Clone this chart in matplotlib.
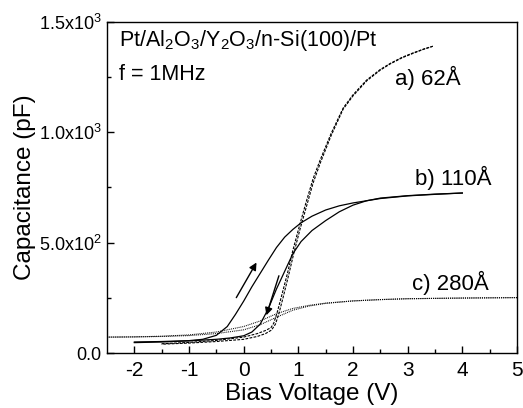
import matplotlib
matplotlib.use("Agg")
import matplotlib.pyplot as plt
from matplotlib.ticker import FixedLocator, FixedFormatter

plt.rcParams['font.family'] = ['Liberation Sans', 'DejaVu Sans']
plt.rcParams['mathtext.fontset'] = 'custom'
plt.rcParams['mathtext.rm'] = 'Liberation Sans'
plt.rcParams['axes.unicode_minus'] = False

# a) 62 A (dashed), two sweep branches
a_up_v = [-1.5, -1, -0.5, 0, 0.25, 0.4, 0.5, 0.55, 0.62, 0.7, 0.8, 0.9, 1.03, 1.15, 1.27, 1.4, 1.6,
          1.82, 2.0, 2.25, 2.5, 2.68, 2.9, 3.1, 3.3, 3.46]
a_up_c = [42, 48, 57, 72, 88, 102, 115, 135, 190, 265, 360, 465, 585, 690, 790, 875, 995,
          1110, 1170, 1237, 1285, 1312, 1340, 1360, 1378, 1390]
a_dn_v = [3.46, 3.3, 3.1, 2.9, 2.68, 2.5, 2.25, 2.0, 1.82, 1.6, 1.4, 1.27, 1.15, 1.03, 0.92, 0.82,
          0.72, 0.64, 0.58, 0.51, 0.4, 0.25, 0, -0.5, -1, -1.5]
a_dn_c = [1390, 1377, 1358, 1338, 1310, 1282, 1233, 1165, 1105, 985, 860, 770, 665, 560, 455, 350,
          250, 175, 130, 104, 88, 75, 62, 52, 45, 40]

# b) 110 A (solid)
b_up_v = [-2, -1.5, -1, -0.75, -0.5, -0.3, -0.15, 0, 0.15, 0.3, 0.45, 0.6, 0.75, 0.9, 1.05, 1.25,
          1.5, 1.75, 2.0, 2.25, 2.5, 3, 3.5, 4]
b_up_c = [50, 52, 56, 62, 80, 120, 175, 235, 300, 360, 420, 478, 525, 560, 590, 620,
          648, 667, 680, 690, 700, 712, 719, 725]
b_dn_v = [4, 3.5, 3, 2.5, 2.25, 2.0, 1.75, 1.5, 1.25, 1.05, 0.9, 0.75, 0.6, 0.45, 0.3, 0.15,
          0, -0.25, -0.5, -1, -1.5, -2]
b_dn_c = [725, 720, 713, 702, 690, 670, 640, 600, 555, 505, 450, 370, 290, 200, 130, 95,
          78, 68, 62, 55, 50, 47]

# c) 280 A (dotted)
c_up_v = [-2.5, -2, -1.5, -1, -0.5, 0, 0.3, 0.6, 0.9, 1.2, 1.5, 2, 2.5, 3, 4, 5]
c_up_c = [72, 73, 76, 82, 95, 120, 145, 178, 202, 216, 226, 236, 242, 246, 249, 251]
c_dn_v = [5, 4, 3, 2.5, 2, 1.5, 1.2, 0.9, 0.6, 0.3, 0, -0.5, -1, -1.5, -2, -2.5]
c_dn_c = [251, 249, 246, 242, 236, 225, 213, 194, 162, 128, 105, 88, 79, 75, 73, 72]

x_ticks = [-2, -1, 0, 1, 2, 3, 4, 5]
y_ticks = [0, 500, 1000, 1500]
y_labels = ['0.0', r'5.0x10$^2$', r'1.0x10$^3$', r'1.5x10$^3$']

fig = plt.figure(figsize=(5.23, 4.08), dpi=100)
ax = fig.add_axes([0.2046, 0.1348, 0.7839, 0.8113])

dash = (0, (2.5, 1.2))
dot = (0, (0.8, 0.9))
ax.plot(a_up_v, a_up_c, color='black', lw=0.8, ls=dash)
ax.plot(a_dn_v, a_dn_c, color='black', lw=0.8, ls=dash)
ax.plot(b_up_v, b_up_c, color='black', lw=0.9, ls='-')
ax.plot(b_dn_v, b_dn_c, color='black', lw=0.9, ls='-')
ax.plot(c_up_v, c_up_c, color='black', lw=0.8, ls=dot)
ax.plot(c_dn_v, c_dn_c, color='black', lw=0.8, ls=dot)

ax.annotate('', xy=(0.26, 421), xytext=(-0.16, 240),
            arrowprops=dict(arrowstyle='-|>', color='black', lw=1.0, mutation_scale=11))
ax.annotate('', xy=(0.40, 159), xytext=(0.66, 362),
            arrowprops=dict(arrowstyle='-|>', color='black', lw=1.0, mutation_scale=11))

ax.set_xlim(-2.5, 5)
ax.set_ylim(0, 1500)
ax.xaxis.set_major_locator(FixedLocator(x_ticks))
ax.xaxis.set_minor_locator(FixedLocator([-1.5, -0.5, 0.5, 1.5, 2.5, 3.5, 4.5]))
ax.yaxis.set_major_locator(FixedLocator(y_ticks))
ax.yaxis.set_major_formatter(FixedFormatter(y_labels))
ax.yaxis.set_minor_locator(FixedLocator([250, 750, 1250]))
ax.tick_params(which='both', direction='in', top=False, right=False)
ax.tick_params(axis='x', labelsize=15, pad=6)
ax.tick_params(axis='y', labelsize=13, pad=4)
ax.tick_params(which='major', length=5, width=1)
ax.tick_params(which='minor', length=3, width=1)
for s in ax.spines.values():
    s.set_linewidth(1.0)

ax.text(-2.28, 1418, r'Pt/Al$_2$O$_3$/Y$_2$O$_3$/n-Si(100)/Pt', fontsize=15.5, va='center', ha='left')
ax.text(-2.28, 1262, 'f = 1MHz', fontsize=15.5, va='center', ha='left')
ax.text(2.77, 1246, 'a) 62Å', fontsize=16, va='center', ha='left')
ax.text(3.13, 793, 'b) 110Å', fontsize=16, va='center', ha='left')
ax.text(3.08, 317, 'c) 280Å', fontsize=16, va='center', ha='left')

ax.set_xlabel('Bias Voltage (V)', fontsize=17.5, labelpad=2)
ax.set_ylabel('Capacitance (pF)', fontsize=17.5, labelpad=2)

fig.savefig('out.png', dpi=100)
